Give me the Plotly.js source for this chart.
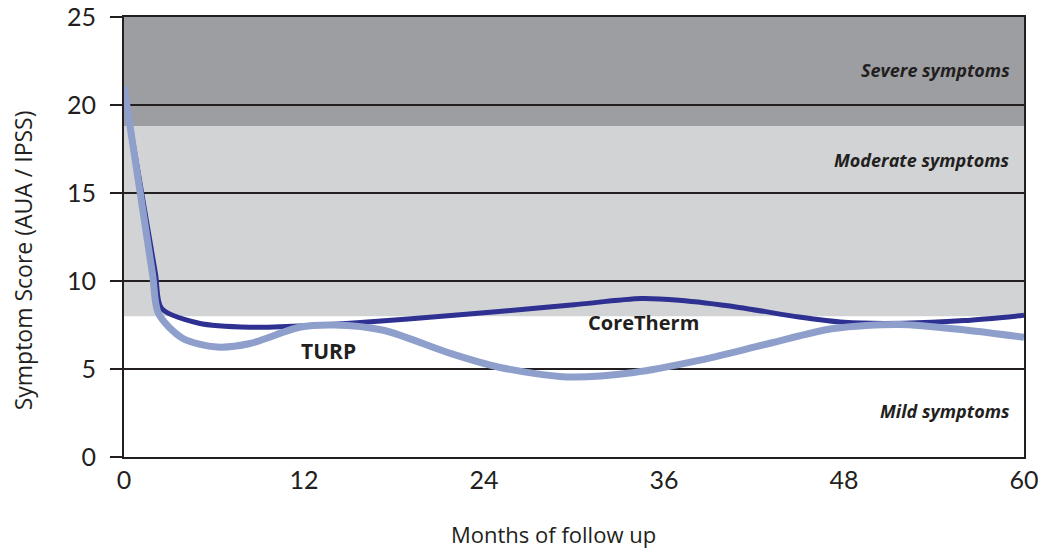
<!DOCTYPE html>
<html>
<head>
<meta charset="utf-8">
<script src="https://cdn.plot.ly/plotly-3.0.1.min.js"></script>
<style>html,body{margin:0;padding:0;background:#fff;}#chart{width:1038px;height:549px;}</style>
</head>
<body>
<div id="chart"></div>
<script>
// Data
const coreMonths = [0, 1.0, 2.1, 2.5, 5, 8.4, 12, 16, 22, 25, 30, 34.5, 37, 41, 45, 48, 52, 56, 60];
const coreScore  = [20.8, 15.9, 10.4, 8.45, 7.6, 7.37, 7.45, 7.65, 8.05, 8.27, 8.65, 9.0, 8.9, 8.5, 7.95, 7.65, 7.6, 7.75, 8.05];
const turpMonths = [0, 1.0, 1.9, 2.3, 3.9, 6.2, 8.4, 11.7, 14, 17.3, 21.7, 25, 29.5, 34, 38.4, 43, 47.3, 51.7, 56.2, 60];
const turpScore  = [21.05, 15.45, 10.4, 8.15, 6.75, 6.25, 6.45, 7.37, 7.5, 7.2, 5.9, 5.1, 4.55, 4.8, 5.5, 6.45, 7.3, 7.53, 7.2, 6.8];
const xTicks = [0, 12, 24, 36, 48, 60];
const yTicks = [0, 5, 10, 15, 20, 25];
const bandEdges = [0, 8, 18.8, 25];  // mild / moderate / severe
const bandNames = ["Mild symptoms", "Moderate symptoms", "Severe symptoms"];
const bandLabelY = [2.6, 16.9, 22.0];

const ink = '#231f20';
const font = 'Lato, "Open Sans", sans-serif';
const font2 = '"Open Sans", Lato, sans-serif';

const traces = [
  {x: coreMonths, y: coreScore, mode: 'lines', line: {color: '#2e3192', width: 5, shape: 'spline', smoothing: 0.8}, name: 'CoreTherm', hoverinfo: 'skip'},
  {x: turpMonths, y: turpScore, mode: 'lines', line: {color: '#8e9fcc', width: 7, shape: 'spline', smoothing: 0.8}, name: 'TURP', hoverinfo: 'skip'}
];

const bandColors = ['rgba(0,0,0,0)', '#d1d3d5', '#9d9ea2'];
const shapes = [];
for (let i = 1; i < 3; i++) {
  shapes.push({type: 'rect', xref: 'paper', yref: 'y', x0: 0, x1: 1, y0: bandEdges[i], y1: bandEdges[i+1],
    fillcolor: bandColors[i], line: {width: 0}, layer: 'below'});
}

const annotations = bandNames.map((t, i) => ({
  x: 59.2, y: bandLabelY[i], xref: 'x', yref: 'y', text: '<b><i>' + t + '</i></b>',
  showarrow: false, xanchor: 'right', yanchor: 'middle', font: {family: font2, size: 18, color: ink}
}));
annotations.push({x: 34.6, y: 7.65, xref: 'x', yref: 'y', text: '<b>CoreTherm</b>', showarrow: false,
  xanchor: 'center', yanchor: 'middle', font: {family: font2, size: 20, color: ink}});
annotations.push({x: 13.6, y: 6.0, xref: 'x', yref: 'y', text: '<b>TURP</b>', showarrow: false,
  xanchor: 'center', yanchor: 'middle', font: {family: font2, size: 21, color: ink}});
// axis titles, placed as in the reference
annotations.push({x: 0.4767, y: -0.174, xref: 'paper', yref: 'paper', text: 'Months of follow up', showarrow: false,
  xanchor: 'center', yanchor: 'middle', font: {family: font2, size: 22, color: ink}});
annotations.push({x: -0.1122, y: 0.447, xref: 'paper', yref: 'paper', text: 'Symptom Score (AUA / IPSS)', showarrow: false,
  textangle: -90, xanchor: 'center', yanchor: 'middle', font: {family: font2, size: 23, color: ink}});

const layout = {
  width: 1038, height: 549,
  margin: {l: 124, r: 14, t: 17, b: 92},
  paper_bgcolor: '#fff', plot_bgcolor: '#fff',
  showlegend: false,
  font: {family: font, color: ink},
  xaxis: {
    range: [0, 60], tickvals: xTicks, ticktext: xTicks.map(String),
    showgrid: false, zeroline: false, showline: true, linecolor: ink, linewidth: 2, mirror: true,
    ticks: '', tickfont: {family: font, size: 25, color: ink}, ticklabeloverflow: 'allow'
  },
  yaxis: {
    range: [0, 25], tickvals: yTicks, ticktext: yTicks.map(String),
    showgrid: true, gridcolor: ink, gridwidth: 2, zeroline: false,
    showline: true, linecolor: ink, linewidth: 2, mirror: true,
    ticks: 'outside', ticklen: 12, tickwidth: 2, tickcolor: ink, ticklabelstandoff: 9,
    tickfont: {family: font, size: 25, color: ink}
  },
  shapes: shapes,
  annotations: annotations
};

Plotly.newPlot('chart', traces, layout, {displayModeBar: false, staticPlot: true});
</script>
</body>
</html>
